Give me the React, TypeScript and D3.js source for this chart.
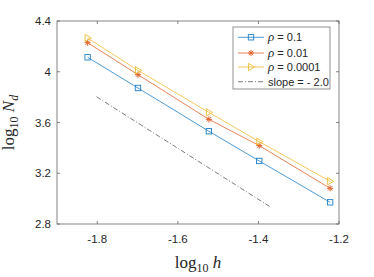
import React from "react";
import * as d3 from "d3";

const xs = [-1.824, -1.699, -1.523, -1.398, -1.222];
const rho01 = [4.114, 3.872, 3.531, 3.297, 2.971];
const rho001 = [4.229, 3.977, 3.625, 3.418, 3.081];
const rho00001 = [4.266, 4.011, 3.68, 3.449, 3.137];
const slopeX = [-1.802, -1.37];
const slopeY = [3.803, 2.934];
const xTicks = [-1.8, -1.6, -1.4, -1.2];
const yTicks = [2.8, 3.2, 3.6, 4.0, 4.4];
const seriesNames = ["0.1", "0.01", "0.0001"];

const W = 374, H = 277;
const L = 57, R = 339, T = 21, B = 224;
const colors = ["#1f80c8", "#e0642e", "#f0bb34"];

export default function App() {
  const x = d3.scaleLinear().domain([-1.9, -1.2]).range([L, R]);
  const y = d3.scaleLinear().domain([2.8, 4.4]).range([B, T]);
  const line = d3.line<[number, number]>().x(d => x(d[0])).y(d => y(d[1]));
  const series = [rho01, rho001, rho00001];

  const marker = (k: number, cx: number, cy: number, key: string) => {
    const c = colors[k];
    if (k === 0) {
      return <rect key={key} x={cx - 2.7} y={cy - 2.7} width={5.4} height={5.4} fill="none" stroke={c} strokeWidth={0.9} />;
    }
    if (k === 1) {
      const r = 3.1;
      const d = [0, 45, 90, 135].map(a => {
        const rad = (a * Math.PI) / 180;
        return `M${cx - r * Math.cos(rad)},${cy - r * Math.sin(rad)}L${cx + r * Math.cos(rad)},${cy + r * Math.sin(rad)}`;
      }).join("");
      return <path key={key} d={d} stroke={c} strokeWidth={1} fill="none" />;
    }
    const s = 3.6;
    return <path key={key} d={`M${cx - s * 0.7},${cy - s}L${cx + s},${cy}L${cx - s * 0.7},${cy + s}Z`} fill="none" stroke={c} strokeWidth={0.9} />;
  };

  const sans = "Liberation Sans, Arial, sans-serif";
  const serif = "Liberation Serif, Times New Roman, serif";
  const legX = 233, legY = 27, legW = 97, legH = 62;
  const rowY = [37.3, 53, 67, 81.7];

  return (
    <svg width={W} height={H} style={{ position: "absolute", left: 0, top: 0, background: "#fff" }}>
      <rect x={0} y={0} width={W} height={H} fill="#fff" />
      <rect x={L} y={T} width={R - L} height={B - T} fill="none" stroke="#666" strokeWidth={0.8} />
      {xTicks.map(t => (
        <g key={"xt" + t}>
          <line x1={x(t)} x2={x(t)} y1={B} y2={B - 3} stroke="#666" strokeWidth={0.8} />
          <line x1={x(t)} x2={x(t)} y1={T} y2={T + 3} stroke="#666" strokeWidth={0.8} />
          <text x={x(t)} y={B + 19} textAnchor="middle" fontFamily={sans} fontSize={11.5} fill="#262626">{t.toFixed(1)}</text>
        </g>
      ))}
      {yTicks.map(t => (
        <g key={"yt" + t}>
          <line x1={L} x2={L + 3} y1={y(t)} y2={y(t)} stroke="#666" strokeWidth={0.8} />
          <line x1={R} x2={R - 3} y1={y(t)} y2={y(t)} stroke="#666" strokeWidth={0.8} />
          <text x={L - 6} y={y(t) + 4} textAnchor="end" fontFamily={sans} fontSize={11.5} fill="#262626">{t === 4 ? "4" : t.toFixed(1)}</text>
        </g>
      ))}
      <path d={line(slopeX.map((v, i) => [v, slopeY[i]]) as [number, number][]) || ""} stroke="#444" strokeWidth={0.7} strokeDasharray="5 2 1 2" fill="none" />
      {series.map((s, k) => (
        <g key={"s" + k}>
          <path d={line(xs.map((v, i) => [v, s[i]]) as [number, number][]) || ""} stroke={colors[k]} strokeWidth={0.8} fill="none" />
          {xs.map((v, i) => marker(k, x(v), y(s[i]), `m${k}-${i}`))}
        </g>
      ))}
      <rect x={legX} y={legY} width={legW} height={legH} fill="#fff" stroke="#777" strokeWidth={0.8} />
      {seriesNames.map((n, k) => (
        <g key={"l" + k}>
          <line x1={238} x2={264} y1={rowY[k]} y2={rowY[k]} stroke={colors[k]} strokeWidth={0.8} />
          {marker(k, 251, rowY[k], "lm" + k)}
          <text x={268} y={rowY[k] + 4} fontFamily={sans} fontSize={11} fill="#262626">
            <tspan fontFamily={serif} fontStyle="italic" fontSize={13}>ρ</tspan>
            <tspan> = {n}</tspan>
          </text>
        </g>
      ))}
      <line x1={238} x2={264} y1={rowY[3]} y2={rowY[3]} stroke="#444" strokeWidth={0.7} strokeDasharray="5 2 1 2" />
      <text x={268} y={rowY[3] + 4} fontFamily={sans} fontSize={11} fill="#262626">slope = - 2.0</text>
      <text x={(L + R) / 2} y={268} textAnchor="middle" fontFamily={serif} fontSize={17} fill="#262626">
        log<tspan fontSize={12} dy={4}>10</tspan><tspan dy={-4} fontStyle="italic"> h</tspan>
      </text>
      <text transform={`translate(14,${(T + B) / 2}) rotate(-90)`} textAnchor="middle" fontFamily={serif} fontSize={17} fill="#262626">
        log<tspan fontSize={12} dy={4}>10</tspan><tspan dy={-4} fontStyle="italic"> N</tspan><tspan fontSize={12} dy={4} fontStyle="italic">d</tspan>
      </text>
    </svg>
  );
}
